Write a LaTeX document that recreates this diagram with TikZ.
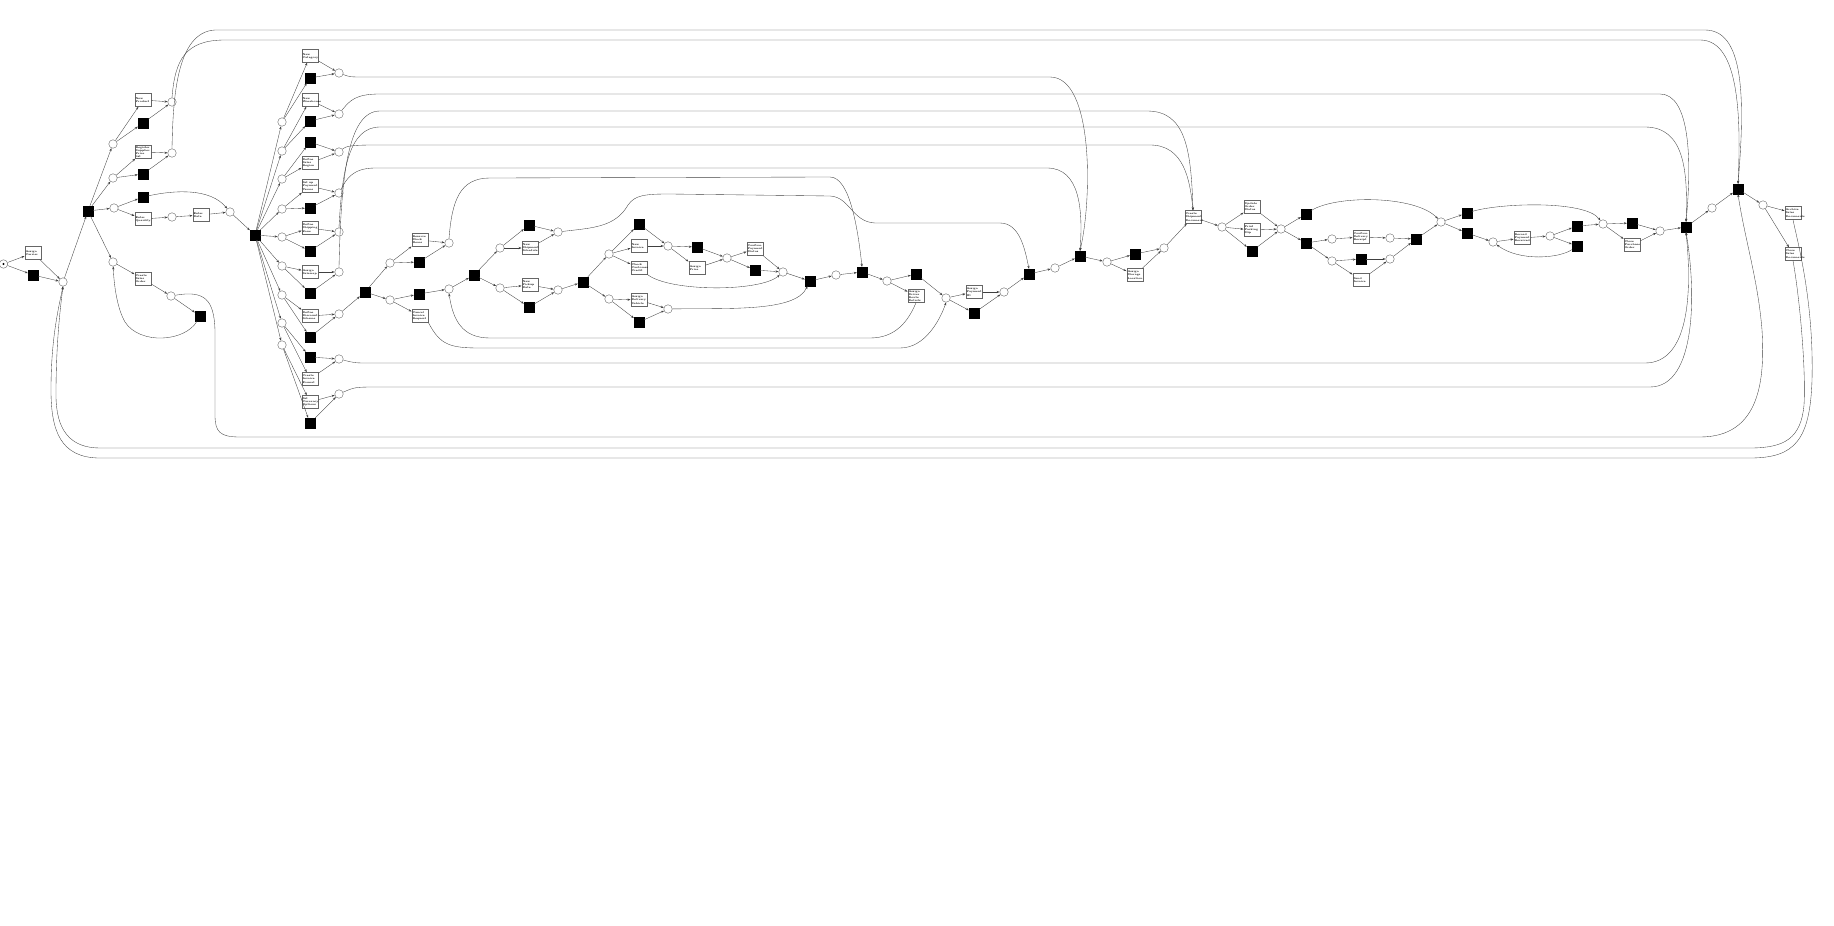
\documentclass[tikz,border=0pt]{standalone}
\usetikzlibrary{arrows.meta}

\begin{document}
\begin{tikzpicture}[x=1pt,y=-1pt,>={Stealth[length=3pt,width=2.2pt]},
  pl/.style={draw=black!60,circle,fill=white,inner sep=0pt,minimum size=8.5pt},
  tr/.style={draw=black,fill=black,inner sep=0pt,minimum size=10pt},
  act/.style={draw=black!60,fill=white,inner sep=0.8pt,text width=15pt,minimum height=13pt,
    align=left,font=\fontsize{2.6}{3.1}\selectfont\bfseries},
  arc/.style={->,draw=black!75,line width=0.35pt}]
  \useasboundingbox (0,0) rectangle (1834,926);

  % start and setup
  \node[pl] (p0) at (3.5,264) {};
  \fill (p0.center) circle (1.2pt);
  \node[act] (a0) at (33,253) {Assign\\Carrier};
  \node[tr] (t0) at (33,275) {};
  \node[pl] (p1) at (63,282) {};
  \node[tr] (t1) at (88,211) {};
  \node[pl] (p2) at (113,144) {};
  \node[pl] (p3) at (113,178) {};
  \node[pl] (p4) at (114,208) {};
  \node[pl] (p5) at (113,262) {};
  \node[act] (a1) at (143,100) {New\\Product};
  \node[tr] (t2) at (143,123) {};
  \node[pl] (p6) at (172,102) {};
  \node[act] (a2) at (143,152) {Register\\Supplier\\Price list};
  \node[tr] (t3) at (143,174) {};
  \node[pl] (p7) at (172,153) {};
  \node[tr] (t4) at (143,197) {};
  \node[act] (a3) at (143,219) {Enter\\Quantity};
  \node[pl] (p8) at (172,217) {};
  \node[act] (a4) at (201,215) {Enter Date};
  \node[pl] (p9) at (230,212) {};
  \node[act] (a5) at (143,279) {Create\\Sales\\Order};
  \node[pl] (p10) at (171,296) {};
  \node[tr] (t5) at (200,316) {};
  \node[tr] (t6) at (255,235) {};

  % master data choices
  \foreach \y [count=\i] in {122,151,179,209,237,266,295,323,345}
    \node[pl] (q\i) at (282,\y) {};
  \foreach \y [count=\i] in {78,121,142,208,251,293,337,357,423}
    \node[tr] (s\i) at (310,\y) {};
  \foreach \y [count=\i] in {73,114,152,193,232,272,314,359,394}
    \node[pl] (r\i) at (339,\y) {};
  \node[act] (b1) at (310,56) {New\\Category};
  \node[act] (b2) at (310,100) {New\\Warehouse};
  \node[act] (b3) at (310,163) {Define\\Sales\\Region};
  \node[act] (b4) at (310,186) {Set up\\Payment\\Terms};
  \node[act] (b5) at (310,228) {Define\\Shipping\\Zone};
  \node[act] (b6) at (310,272) {Assign\\Salesrep};
  \node[act] (b7) at (310,316) {Define\\Discount\\Scheme};
  \node[act] (b8) at (310,379) {Create\\Invoice\\Format};
  \node[act] (b9) at (310,402) {Set\\Currency\\Options};

  % order handling
  \node[tr] (t7) at (365,292) {};
  \node[pl] (u1) at (390,263) {};
  \node[pl] (u2) at (390,300) {};
  \node[act] (c1) at (420,240) {Reserve\\Stock\\Items};
  \node[tr] (t8) at (419,262) {};
  \node[pl] (u3) at (449,243) {};
  \node[tr] (t9) at (419,294) {};
  \node[act] (c2) at (420,316) {Cancel\\Invoice\\Request};
  \node[pl] (u4) at (449,289) {};
  \node[tr] (t10) at (474,275) {};
  \node[pl] (u5) at (500,248) {};
  \node[pl] (u6) at (500,288) {};
  \node[tr] (t11) at (529,225) {};
  \node[act] (c3) at (530,248) {New\\Shipment\\Schedule};
  \node[pl] (u7) at (558,232) {};
  \node[act] (c4) at (530,285) {New\\Pickup\\Date};
  \node[tr] (t12) at (529,307) {};
  \node[pl] (u8) at (558,290) {};
  \node[tr] (t13) at (583,282) {};
  \node[pl] (u9) at (609,254) {};
  \node[pl] (u10) at (609,299) {};
  \node[tr] (t14) at (639,224) {};
  \node[act] (c5) at (639,246) {New\\Invoice};
  \node[act] (c6) at (639,268) {Check\\Customer\\Credit};
  \node[pl] (u11) at (668,246) {};
  \node[tr] (t15) at (697,247) {};
  \node[act] (c7) at (697,268) {Assign\\Price};
  \node[pl] (u12) at (727,258) {};
  \node[act] (c8) at (755,249) {Confirm\\Payment\\Status};
  \node[tr] (t16) at (755,270) {};
  \node[pl] (u13) at (783,272) {};
  \node[act] (c9) at (639,300) {Assign\\Delivery\\Vehicle};
  \node[tr] (t17) at (639,322) {};
  \node[pl] (u14) at (668,309) {};
  \node[tr] (t18) at (810,281) {};
  \node[pl] (u15) at (836,275) {};
  \node[tr] (t19) at (862,272) {};
  \node[pl] (u16) at (887,281) {};
  \node[tr] (t20) at (916,274) {};
  \node[act] (c10) at (916,296) {Assign\\Driver\\Route\\Details};
  \node[pl] (u17) at (946,298) {};
  \node[act] (c11) at (974,292) {Assign\\Payment\\ID};
  \node[tr] (t21) at (974,313) {};
  \node[pl] (u18) at (1004,292) {};
  \node[tr] (t22) at (1029,274) {};
  \node[pl] (u19) at (1055,268) {};
  \node[tr] (t23) at (1080,256) {};
  \node[pl] (u20) at (1107,262) {};
  \node[tr] (t24) at (1135,254) {};
  \node[act] (c12) at (1135,275) {Assign\\Storage\\Location};
  \node[pl] (u21) at (1164,248) {};

  % shipping and closing
  \node[act] (c13) at (1193,217) {Create\\Shipment\\Document};
  \node[pl] (u22) at (1222,227) {};
  \node[act] (c14) at (1252,207) {Update\\Order\\Status};
  \node[act] (c15) at (1252,230) {Print\\Packing\\Slip};
  \node[tr] (t25) at (1252,251) {};
  \node[pl] (u23) at (1281,229) {};
  \node[tr] (t26) at (1306,214) {};
  \node[tr] (t27) at (1306,243) {};
  \node[pl] (u24) at (1332,239) {};
  \node[act] (c16) at (1361,237) {Confirm\\Delivery\\Receipt};
  \node[pl] (u25) at (1390,238) {};
  \node[pl] (u26) at (1332,261) {};
  \node[tr] (t28) at (1361,259) {};
  \node[act] (c17) at (1361,280) {Send\\Invoice};
  \node[pl] (u27) at (1390,259) {};
  \node[tr] (t29) at (1416,239) {};
  \node[pl] (u28) at (1441,222) {};
  \node[tr] (t30) at (1467,213) {};
  \node[tr] (t31) at (1467,233) {};
  \node[pl] (u29) at (1493,242) {};
  \node[act] (c18) at (1522,238) {Record\\Payment\\Received};
  \node[pl] (u30) at (1550,236) {};
  \node[tr] (t32) at (1577,226) {};
  \node[tr] (t33) at (1577,246) {};
  \node[pl] (u31) at (1603,224) {};
  \node[tr] (t34) at (1632,223) {};
  \node[act] (c19) at (1632,245) {Close\\Purchase\\Order};
  \node[pl] (u32) at (1660,231) {};
  \node[tr] (t35) at (1686,227) {};
  \node[pl] (u33) at (1712,208) {};
  \node[tr] (t36) at (1738,189) {};
  \node[pl] (u34) at (1763,205) {};
  \node[act] (c20) at (1793,213) {Archive\\Sales\\Documents};
  \node[act] (c21) at (1793,254) {Close\\Sales\\Documents};

  % short arcs
  \foreach \a/\b in {p0/a0,p0/t0,a0/p1,t0/p1,p1/t1,t1/p2,t1/p3,t1/p4,t1/p5,
      p2/a1,p2/t2,a1/p6,t2/p6,p3/a2,p3/t3,a2/p7,t3/p7,p4/t4,p4/a3,a3/p8,p8/a4,
      a4/p9,p9/t6,p5/a5,a5/p10,p10/t5,
      r7/t7,t7/u1,t7/u2,u1/c1,u1/t8,c1/u3,t8/u3,u2/t9,u2/c2,t9/u4,u4/t10,
      t10/u5,t10/u6,u5/t11,u5/c3,t11/u7,c3/u7,u6/c4,u6/t12,c4/u8,t12/u8,u8/t13,
      t13/u9,t13/u10,u9/t14,u9/c5,u9/c6,t14/u11,c5/u11,u11/t15,u11/c7,t15/u12,
      c7/u12,u12/c8,u12/t16,c8/u13,t16/u13,u10/c9,u10/t17,c9/u14,t17/u14,
      u13/t18,t18/u15,u15/t19,t19/u16,u16/t20,u16/c10,t20/u17,u17/c11,u17/t21,
      c11/u18,t21/u18,u18/t22,t22/u19,u19/t23,t23/u20,u20/t24,u20/c12,t24/u21,
      c12/u21,u21/c13,c13/u22,u22/c14,u22/c15,u22/t25,c14/u23,c15/u23,t25/u23,
      u23/t26,u23/t27,t27/u24,t27/u26,u24/c16,c16/u25,u25/t29,u26/t28,u26/c17,
      t28/u27,c17/u27,u27/t29,t29/u28,u28/t30,u28/t31,t31/u29,u29/c18,c18/u30,
      u30/t32,u30/t33,t32/u31,u31/t34,u31/c19,t34/u32,c19/u32,u32/t35,t35/u33,
      u33/t36,t36/u34,u34/c20,u34/c21}
    \draw[arc] (\a) -- (\b);
  \foreach \i in {1,...,9} {
    \draw[arc] (t6) -- (q\i);
    \draw[arc] (q\i) -- (b\i);
    \draw[arc] (q\i) -- (s\i);
    \draw[arc] (b\i) -- (r\i);
    \draw[arc] (s\i) -- (r\i);
  }

  % bent arcs
  \draw[arc] (t4) .. controls (175,190) and (210,188) .. (p9);
  \draw[arc] (t5) .. controls (185,342) and (140,345) .. (125,322) .. controls (117,308) and (114,285) .. (p5);
  \draw[arc] (t33) .. controls (1560,258) and (1520,262) .. (u29);
  \draw[arc] (c6) .. controls (670,292) and (760,292) .. (u13);
  \draw[arc] (u14) .. controls (730,308) and (795,312) .. (t18);
  \draw[arc] (t26) .. controls (1335,195) and (1415,195) .. (u28);
  \draw[arc] (t30) .. controls (1500,203) and (1585,200) .. (u31);

  % long arcs over the top
  \draw[arc] (p7.north) .. controls (173,100) and (176,32) .. (215,30) -- (1705,30)
    .. controls (1742,30) and (1746,90) .. (t36.north);
  \draw[arc] (p6.north) .. controls (175,60) and (185,40) .. (225,40) -- (1700,40)
    .. controls (1735,40) and (1742,100) .. (t36.north);
  \draw[arc] (r1) .. controls (350,77) .. (365,77) -- (1050,77)
    .. controls (1094,77) and (1092,200) .. (t23.north);
  \draw[arc] (r2) .. controls (350,100) and (356,94) .. (380,94) -- (1660,94)
    .. controls (1690,94) and (1692,160) .. (t35.north);
  \draw[arc] (r6.north) .. controls (341,180) and (347,111) .. (380,111) -- (1147,111)
    .. controls (1186,111) and (1191,150) .. (c13.north);
  \draw[arc] (r5.north) .. controls (342,170) and (349,127) .. (380,127) -- (1645,127)
    .. controls (1684,127) and (1688,170) .. (t35.north);
  \draw[arc] (r3) .. controls (346,146) and (352,145) .. (375,145) -- (1150,145)
    .. controls (1184,145) and (1190,180) .. (c13.north);
  \draw[arc] (r4) .. controls (346,180) and (352,168) .. (375,168) -- (1047,168)
    .. controls (1080,168) and (1083,210) .. (t23.north);
  \draw[arc] (u3.north) .. controls (452,200) and (460,178) .. (490,178) -- (830,177)
    .. controls (850,177) and (858,230) .. (t19.north);
  \draw[arc] (u7) .. controls (590,228) and (615,228) .. (628,205)
    .. controls (635,195) and (645,194) .. (670,194) -- (830,196)
    .. controls (850,197) and (852,222) .. (875,223) -- (1000,223)
    .. controls (1020,223) and (1025,250) .. (t22.north);

  % long arcs underneath
  \draw[arc] (c2.south east) .. controls (440,345) and (450,348) .. (480,348) -- (900,348)
    .. controls (925,348) and (940,320) .. (u17.south);
  \draw[arc] (c10.south) .. controls (908,322) and (895,338) .. (870,338) -- (490,338)
    .. controls (462,338) and (453,320) .. (u4.south);
  \draw[arc] (r8) .. controls (355,363) .. (370,363) -- (1645,363)
    .. controls (1690,363) and (1692,290) .. (t35.south);
  \draw[arc] (r9) .. controls (355,387) .. (380,387) -- (1650,387)
    .. controls (1697,387) and (1696,290) .. (t35.south);
  \draw[arc] (p10) .. controls (205,290) and (214,300) .. (215,330) -- (215,415)
    .. controls (215,432) and (220,437) .. (240,437) -- (1700,437)
    .. controls (1760,437) and (1765,380) .. (1762,330)
    .. controls (1758,280) and (1745,240) .. (t36.south);
  \draw[arc] (c20.south) .. controls (1797,240) and (1814,300) .. (1812,380)
    .. controls (1810,440) and (1795,458) .. (1750,458) -- (100,458)
    .. controls (60,458) and (51,430) .. (51,390)
    .. controls (51,340) and (58,310) .. (p1.south);
  \draw[arc] (c21.south) .. controls (1800,300) and (1806,370) .. (1804,405)
    .. controls (1801,438) and (1785,448) .. (1750,448) -- (100,448)
    .. controls (70,448) and (56,430) .. (56,395)
    .. controls (56,345) and (60,310) .. (p1.south);
\end{tikzpicture}
\end{document}
